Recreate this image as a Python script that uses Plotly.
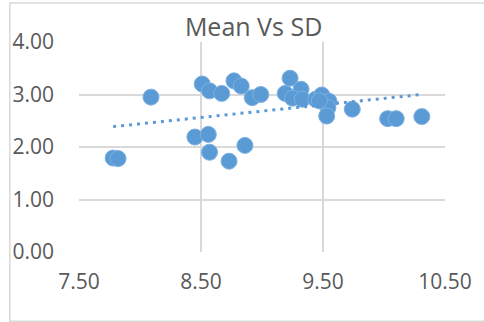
import numpy as np
import plotly.graph_objects as go

# Data (Mean on x, SD on y)
mean_vals = [7.78, 7.82, 8.09, 8.51, 8.57, 8.67, 8.77, 8.83, 8.92, 8.99,
             8.45, 8.56, 8.57, 8.73, 8.86, 9.19, 9.23, 9.32, 9.25, 9.33,
             9.44, 9.49, 9.55, 9.54, 9.53, 9.47, 9.74, 10.03, 10.10, 10.31]
sd_vals = [1.79, 1.78, 2.95, 3.20, 3.07, 3.02, 3.26, 3.16, 2.94, 3.00,
           2.19, 2.24, 1.90, 1.73, 2.03, 3.02, 3.31, 3.10, 2.93, 2.91,
           2.91, 2.99, 2.87, 2.75, 2.59, 2.88, 2.72, 2.54, 2.54, 2.58]
x_ticks = [7.5, 8.5, 9.5, 10.5]
y_ticks = [0, 1, 2, 3, 4]
title_text = "Mean Vs SD"

x = np.array(mean_vals)
y = np.array(sd_vals)
slope, intercept = np.polyfit(x, y, 1)
tx = np.array([x.min(), x.max()])
ty = slope * tx + intercept

BLUE = "#5B9BD5"
GRID = "#D9D9D9"
TXT = "#595959"
FONT = "Open Sans"

fig = go.Figure()
fig.add_trace(go.Scatter(
    x=x, y=y, mode="markers",
    marker=dict(size=16, color=BLUE, line=dict(color="#7DB0E0", width=1)),
    showlegend=False, hoverinfo="skip"))
fig.add_trace(go.Scatter(
    x=tx, y=ty, mode="lines",
    line=dict(color=BLUE, width=3, dash="3px,5px"),
    showlegend=False, hoverinfo="skip"))

fig.update_layout(
    width=484, height=322,
    margin=dict(l=77, r=38, t=42, b=70),
    paper_bgcolor="white", plot_bgcolor="white",
    font=dict(family=FONT, color=TXT),
    title=dict(text=title_text, font=dict(family=FONT, size=25, color=TXT),
               xref="paper", x=0.477, xanchor="center",
               yref="container", y=1 - 27 / 322, yanchor="middle"),
    xaxis=dict(range=[7.5, 10.5], tickvals=x_ticks, tickformat=".2f",
               showgrid=True, gridcolor=GRID, gridwidth=1.5,
               zeroline=False, showline=False, ticks="",
               tickfont=dict(family=FONT, size=21, color=TXT),
               ticklabelstandoff=15),
    yaxis=dict(range=[0, 4], tickvals=y_ticks, tickformat=".2f",
               showgrid=True, gridcolor=GRID, gridwidth=1.5,
               zeroline=False, showline=False, ticks="",
               tickfont=dict(family=FONT, size=21, color=TXT),
               ticklabelstandoff=24),
    shapes=[dict(type="rect", xref="paper", yref="paper",
                 x0=-0.189, x1=1.2, y0=-0.330, y1=1.186,
                 line=dict(color=GRID, width=1.5), layer="below")],
)

fig.write_html("out.html")
